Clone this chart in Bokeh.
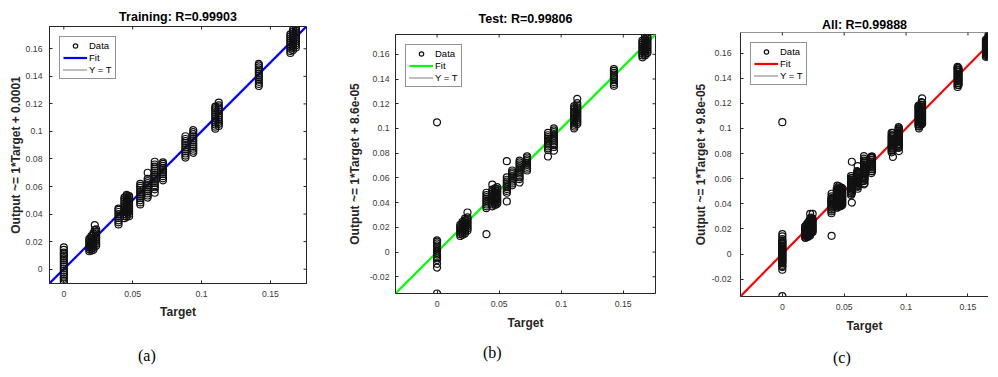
import math
from bokeh.plotting import figure
from bokeh.models import (FixedTicker, CustomJSTickFormatter, Range1d, Legend, LegendItem,
                          Span, Div)
from bokeh.layouts import row, column
from bokeh.embed import file_html
from bokeh.resources import INLINE

# ---------------- data ----------------
train_targets = [0.0, 0.0185, 0.0200, 0.0215, 0.0225, 0.0235, 0.0397, 0.0440, 0.0457, 0.0474,
                 0.0555, 0.0609, 0.0660, 0.0720, 0.0883, 0.0940, 0.1100, 0.1125, 0.1416,
                 0.1645, 0.1665, 0.1685]
train_outputs = [
    [-0.0104, -0.0085, -0.007, -0.0055, -0.004, -0.0025, -0.001, 0.0005, 0.002, 0.0035, 0.005, 0.0065, 0.008, 0.0095, 0.011, 0.012, 0.014, 0.0158],
    [0.013, 0.0145, 0.016, 0.0175, 0.019, 0.0205, 0.022],
    [0.0135, 0.015, 0.0165, 0.018, 0.0195, 0.021, 0.0225, 0.024],
    [0.014, 0.0155, 0.017, 0.0185, 0.02, 0.0215, 0.023, 0.0245, 0.026],
    [0.0285, 0.032],
    [0.017, 0.0185, 0.02, 0.0215, 0.023, 0.0245, 0.026, 0.0275, 0.029],
    [0.0325, 0.034, 0.0355, 0.037, 0.0385, 0.04, 0.0415, 0.043, 0.044],
    [0.037, 0.0385, 0.04, 0.0415, 0.043, 0.0445, 0.046, 0.0475, 0.049, 0.0505, 0.052],
    [0.038, 0.0395, 0.041, 0.0425, 0.044, 0.0455, 0.047, 0.0485, 0.05, 0.0515, 0.053, 0.054],
    [0.0385, 0.04, 0.0415, 0.043, 0.0445, 0.046, 0.0475, 0.049, 0.0505, 0.052, 0.053],
    [0.047, 0.0485, 0.05, 0.0515, 0.053, 0.0545, 0.056, 0.0575, 0.059, 0.0605, 0.062],
    [0.052, 0.0535, 0.055, 0.0565, 0.058, 0.0595, 0.061, 0.0625, 0.064, 0.0655, 0.070],
    [0.0555, 0.058, 0.0595, 0.061, 0.0625, 0.064, 0.0655, 0.067, 0.0685, 0.07, 0.0715, 0.073, 0.0745, 0.076, 0.078],
    [0.0645, 0.066, 0.0675, 0.069, 0.0705, 0.072, 0.0735, 0.075, 0.0765, 0.0775],
    [0.081, 0.0825, 0.084, 0.0855, 0.087, 0.0885, 0.09, 0.0915, 0.093, 0.0945, 0.0965],
    [0.0845, 0.086, 0.0875, 0.089, 0.0905, 0.092, 0.0935, 0.095, 0.0965, 0.098, 0.0995, 0.101],
    [0.102, 0.1035, 0.105, 0.1065, 0.108, 0.1095, 0.111, 0.1125, 0.114, 0.1155, 0.117, 0.118],
    [0.104, 0.1055, 0.107, 0.1085, 0.11, 0.1115, 0.113, 0.1145, 0.116, 0.1175, 0.119, 0.121],
    [0.133, 0.1345, 0.136, 0.1375, 0.139, 0.1405, 0.142, 0.1435, 0.145, 0.1465, 0.148, 0.149],
    [0.157, 0.1585, 0.16, 0.1615, 0.163, 0.1645, 0.166, 0.1675, 0.169, 0.1705],
    [0.159, 0.1605, 0.162, 0.1635, 0.165, 0.1665, 0.168, 0.1695, 0.171, 0.1725, 0.174],
    [0.161, 0.1625, 0.164, 0.1655, 0.167, 0.1685, 0.17, 0.1715, 0.173, 0.1745, 0.176],
]

test_targets = [0.0, 0.0187, 0.0205, 0.0225, 0.0245, 0.0398, 0.0445, 0.0468, 0.0485, 0.0562,
                0.0605, 0.0665, 0.0725, 0.0894, 0.0942, 0.1105, 0.1130, 0.1425, 0.1655,
                0.1675, 0.1695]
test_outputs = [
    [-0.0335, -0.0125, -0.0095, -0.0065, -0.005, -0.0035, -0.002, -0.0005, 0.001, 0.0025, 0.004, 0.0055, 0.007, 0.0085, 0.0095, 0.105],
    [0.013, 0.0145, 0.016, 0.0175, 0.019, 0.0205, 0.022],
    [0.014, 0.0155, 0.017, 0.0185, 0.02, 0.0215, 0.023, 0.0245],
    [0.015, 0.0165, 0.018, 0.0195, 0.021, 0.0225, 0.024, 0.0255, 0.027],
    [0.0175, 0.019, 0.0205, 0.022, 0.0235, 0.025, 0.0265, 0.028, 0.032],
    [0.0145, 0.0355, 0.037, 0.0385, 0.04, 0.0415, 0.043, 0.0445, 0.046, 0.048],
    [0.037, 0.0385, 0.04, 0.0415, 0.043, 0.0445, 0.046, 0.0475, 0.049, 0.0505, 0.0545],
    [0.038, 0.0395, 0.041, 0.0425, 0.044, 0.0455, 0.047, 0.0485, 0.05, 0.0515],
    [0.039, 0.0405, 0.042, 0.0435, 0.045, 0.0465, 0.048, 0.0495, 0.051, 0.0525],
    [0.041, 0.048, 0.0495, 0.051, 0.0525, 0.054, 0.0555, 0.057, 0.0585, 0.0605, 0.0735],
    [0.054, 0.0555, 0.057, 0.0585, 0.06, 0.0615, 0.063, 0.0645, 0.066],
    [0.0563, 0.059, 0.0605, 0.062, 0.0635, 0.065, 0.0665, 0.068, 0.0695, 0.071, 0.0725, 0.074],
    [0.066, 0.0675, 0.069, 0.0705, 0.072, 0.0735, 0.075, 0.0765, 0.0775],
    [0.0773, 0.0825, 0.084, 0.0855, 0.087, 0.0885, 0.09, 0.0915, 0.093, 0.0945, 0.0965],
    [0.082, 0.085, 0.0865, 0.088, 0.0895, 0.091, 0.0925, 0.094, 0.0955, 0.097, 0.0985, 0.1],
    [0.1, 0.1015, 0.103, 0.1045, 0.106, 0.1075, 0.109, 0.1105, 0.112, 0.1135, 0.115, 0.1165, 0.118],
    [0.1035, 0.105, 0.1065, 0.108, 0.1095, 0.111, 0.1125, 0.114, 0.1155, 0.117, 0.1185, 0.1205, 0.124],
    [0.1345, 0.136, 0.1375, 0.139, 0.1405, 0.142, 0.1435, 0.145, 0.1465, 0.148],
    [0.1575, 0.159, 0.1605, 0.162, 0.1635, 0.165, 0.1665, 0.168, 0.1695, 0.171],
    [0.159, 0.1605, 0.162, 0.1635, 0.165, 0.1665, 0.168, 0.1695, 0.171, 0.1725, 0.176],
    [0.161, 0.1625, 0.164, 0.1655, 0.167, 0.1685, 0.17, 0.1715, 0.173, 0.1745],
]

# "All" = training + test samples
all_targets = train_targets + test_targets
all_outputs = train_outputs + test_outputs

titles = ["Training: R=0.99903", "Test: R=0.99806", "All: R=0.99888"]
ylabels = ["Output ~= 1*Target + 0.0001", "Output ~= 1*Target + 8.6e-05",
           "Output ~= 1*Target + 9.8e-05"]
captions = ["(a)", "(b)", "(c)"]
fit_slopes = [1.0, 1.0, 1.0]
fit_intercepts = [0.0001, 8.6e-05, 9.8e-05]
fit_colors = ["#0000ff", "#00ff00", "#ff0000"]
axis_limits = [(-0.0104, 0.1762), (-0.0335, 0.1760), (-0.0338, 0.1764)]
x_ticks = [0, 0.05, 0.1, 0.15]
y_ticks = [[0, 0.02, 0.04, 0.06, 0.08, 0.1, 0.12, 0.14, 0.16],
           [-0.02, 0, 0.02, 0.04, 0.06, 0.08, 0.1, 0.12, 0.14, 0.16],
           [-0.02, 0, 0.02, 0.04, 0.06, 0.08, 0.1, 0.12, 0.14, 0.16]]

# ---------------- layout / style ----------------
FONT = "Liberation Sans"
AX = "#262626"
FIG_H = 338
geoms = [
    dict(ml=5, bl=36, br=38, bt=26, fw=257, fh=257, xend=None, ys=7, ls=0, ts=5, xls=5, box=True),
    dict(ml=0, bl=50, br=35, bt=33, fw=260, fh=259, xend=None, ys=6, ls=5, ts=18, xls=6, box=True),
    dict(ml=0, bl=50, br=0, bt=32, fw=248, fh=264, xend=0.1666, ys=9, ls=1, ts=1, xls=6, box=False),
]
fmt_code = "return String(Math.round(tick*1000)/1000);"


def panel(i, targets, outputs):
    g = geoms[i]
    lo, hi = axis_limits[i]
    xend = g["xend"] if g["xend"] is not None else hi
    p = figure(frame_width=g["fw"], frame_height=g["fh"],
               x_range=Range1d(lo, xend), y_range=Range1d(lo, hi),
               output_backend="svg", toolbar_location=None,
               min_border_left=g["bl"], min_border_right=g["br"],
               min_border_top=g["bt"], min_border_bottom=FIG_H - g["bt"] - g["fh"],
               margin=(0, 0, 0, g["ml"]))
    p.grid.visible = False
    p.background_fill_color = "white"
    p.border_fill_color = "white"
    if g["box"]:
        p.outline_line_color = AX
        p.outline_line_width = 1
    else:
        p.outline_line_color = None
        p.add_layout(Span(location=hi, dimension="width", line_color=AX, line_width=1))

    xs, ys = [], []
    for t, outs in zip(targets, outputs):
        for o in outs:
            xs.append(t)
            ys.append(o)

    fx = [lo, hi]
    fy = [fit_slopes[i] * v + fit_intercepts[i] for v in fx]
    yt = p.line(fx, fx, line_color="black", line_width=1, line_dash="1 1")
    fit = p.line(fx, fy, line_color=fit_colors[i], line_width=2.2)
    sc = p.scatter(xs, ys, marker="circle", size=7, fill_color=None,
                   line_color="#111111", line_width=1.2)

    # inward box ticks on top / right edges (half of each dash is clipped by the frame)
    p.scatter(x_ticks, [hi] * len(x_ticks), marker="dash", angle=math.pi / 2, size=6,
              line_color=AX, line_width=1)
    if g["box"]:
        p.scatter([xend] * len(y_ticks[i]), y_ticks[i], marker="dash", size=6,
                  line_color=AX, line_width=1)

    for ax, ticks in ((p.xaxis[0], x_ticks), (p.yaxis[0], y_ticks[i])):
        ax.ticker = FixedTicker(ticks=ticks)
        ax.formatter = CustomJSTickFormatter(code=fmt_code)
        ax.major_tick_in = 3
        ax.major_tick_out = 0
        ax.minor_tick_line_color = None
        ax.axis_line_color = AX
        ax.major_tick_line_color = AX
        ax.major_label_text_font = FONT
        ax.major_label_text_font_size = "8.7px"
        ax.major_label_text_color = "#3a3a3a"
        ax.axis_label_text_font = FONT
        ax.axis_label_text_font_size = "12px"
        ax.axis_label_text_font_style = "bold"
        ax.axis_label_text_color = AX
    p.xaxis[0].axis_label = "Target"
    p.xaxis[0].major_label_standoff = 7
    p.xaxis[0].axis_label_standoff = g["xls"]
    p.yaxis[0].axis_label = ylabels[i]
    p.yaxis[0].major_label_standoff = g["ys"]
    p.yaxis[0].axis_label_standoff = g["ls"]

    p.title.text = titles[i]
    p.title.text_font = FONT
    p.title.text_font_size = "12.5px"
    p.title.text_font_style = "bold"
    p.title.text_color = "black"
    p.title.align = "center"
    p.title.standoff = g["ts"]

    leg = Legend(items=[LegendItem(label="Data", renderers=[sc]),
                        LegendItem(label="Fit", renderers=[fit]),
                        LegendItem(label="Y = T", renderers=[yt])],
                 location="top_left", margin=10,
                 border_line_color=AX, border_line_width=1,
                 background_fill_color="white", background_fill_alpha=1,
                 label_text_font=FONT, label_text_font_size="9.5px", label_text_color="black",
                 glyph_width=24, glyph_height=11, label_height=11, label_standoff=2,
                 spacing=1, padding=3)
    p.add_layout(leg, "center")
    return p


p1 = panel(0, train_targets, train_outputs)
p2 = panel(1, test_targets, test_outputs)
p3 = panel(2, all_targets, all_outputs)

cap_pos = [(138, 8), (483, 5), (833, 10)]
spans = "".join(
    f'<span style="position:absolute;left:{x}px;top:{y}px;line-height:18px;">{c}</span>'
    for c, (x, y) in zip(captions, cap_pos))
cap_html = (f'<div style="position:relative;width:982px;height:30px;'
            f'font-family:\'Liberation Serif\';font-size:16px;color:black;">{spans}</div>')
caps = Div(text=cap_html, width=982, height=30, margin=0)

layout = column(row(column(p1), column(p2), column(p3), spacing=0), caps, spacing=0)
open("out.html", "w").write(file_html(layout, INLINE))
